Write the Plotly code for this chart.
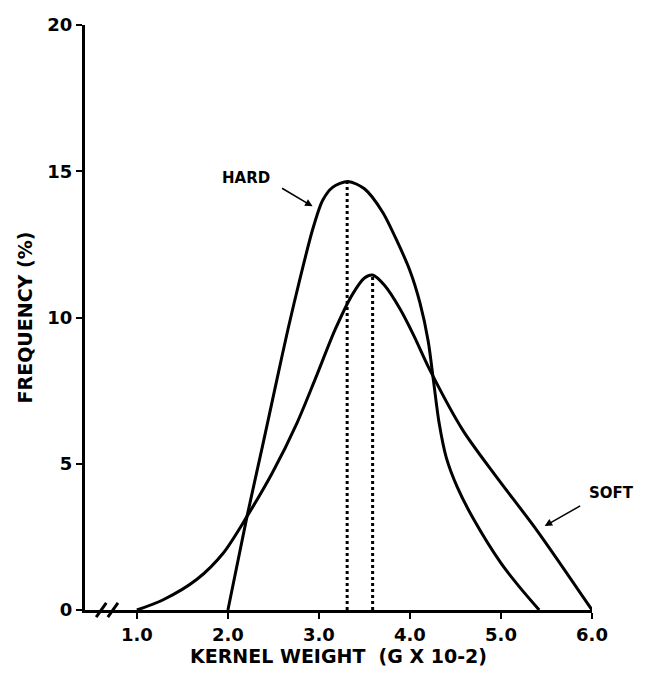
import plotly.graph_objects as go

# Kernel weight (G x 10^-2) vs frequency (%)
hard_x = [2.0, 2.21, 2.38, 2.54, 2.66, 2.79, 2.93, 3.04, 3.15, 3.32, 3.5, 3.7, 3.86, 4.0, 4.11, 4.2, 4.26, 4.32, 4.4, 4.52, 4.7, 5.0, 5.2, 5.42]
hard_y = [0, 3.2, 5.6, 7.9, 9.6, 11.3, 13.0, 14.0, 14.45, 14.65, 14.4, 13.6, 12.6, 11.6, 10.5, 9.2, 7.8, 6.4, 5.2, 4.2, 3.1, 1.6, 0.8, 0]

soft_x = [1.0, 1.29, 1.66, 1.95, 2.21, 2.49, 2.76, 2.96, 3.18, 3.37, 3.5, 3.59, 3.72, 3.89, 4.04, 4.22, 4.58, 4.95, 5.4, 6.0]
soft_y = [0, 0.35, 1.05, 1.95, 3.2, 4.7, 6.4, 7.9, 9.6, 10.8, 11.35, 11.45, 11.1, 10.3, 9.4, 8.2, 6.15, 4.55, 2.7, 0]

hard_peak_x, hard_peak_y = 3.31, 14.65
soft_peak_x, soft_peak_y = 3.59, 11.45

x_ticks = [1, 2, 3, 4, 5, 6]
x_ticklabels = ["1.0", "2.0", "3.0", "4.0", "5.0", "6.0"]
y_ticks = [0, 5, 10, 15, 20]
y_ticklabels = ["0", "5", "10", "15", "20"]

FONT = "DejaVu Sans, Arial, sans-serif"
TICKF = dict(family=FONT, size=18, color="black", weight="bold")
TITLEF = dict(family=FONT, size=19, color="black", weight="bold")
LABF = dict(family=FONT, size=15, color="black", weight="bold")

fig = go.Figure()
fig.add_trace(go.Scatter(x=hard_x, y=hard_y, mode="lines",
                         line=dict(color="black", width=3, shape="spline", smoothing=0.8),
                         showlegend=False, cliponaxis=False))
fig.add_trace(go.Scatter(x=soft_x, y=soft_y, mode="lines",
                         line=dict(color="black", width=3, shape="spline", smoothing=0.8),
                         showlegend=False, cliponaxis=False))
fig.add_trace(go.Scatter(x=[hard_peak_x, hard_peak_x], y=[0, hard_peak_y], mode="lines",
                         line=dict(color="black", width=3, dash="dot"), showlegend=False))
fig.add_trace(go.Scatter(x=[soft_peak_x, soft_peak_x], y=[0, soft_peak_y], mode="lines",
                         line=dict(color="black", width=3, dash="dot"), showlegend=False))

# labels with arrows
fig.add_annotation(x=2.2, y=14.77, text="HARD", showarrow=False, font=LABF,
                   xanchor="center", yanchor="middle")
fig.add_annotation(x=2.93, y=13.8, text="", showarrow=True, arrowhead=2, arrowsize=1,
                   arrowwidth=1.5, arrowcolor="black", ax=-32, ay=-19)
fig.add_annotation(x=1.039, xref="paper", y=4.0, text="SOFT", showarrow=False, font=LABF,
                   xanchor="center", yanchor="middle")
fig.add_annotation(x=5.48, y=2.87, text="", showarrow=True, arrowhead=2, arrowsize=1,
                   arrowwidth=1.5, arrowcolor="black", ax=37, ay=-21)

# axis break marks
for x0 in (0.022, 0.045):
    fig.add_shape(type="line", xref="paper", yref="paper",
                  x0=x0, x1=x0 + 0.02, y0=-0.012, y1=0.012,
                  line=dict(color="black", width=3))

fig.update_layout(
    width=648, height=673,
    margin=dict(l=85, r=56, t=25, b=63),
    paper_bgcolor="white", plot_bgcolor="white",
    font=dict(family=FONT, color="black"),
)
fig.update_xaxes(range=[0.43, 6.0], tickvals=x_ticks, ticktext=x_ticklabels,
                 showgrid=False, zeroline=False, showline=True, linewidth=3, linecolor="black",
                 ticks="outside", ticklen=6, tickwidth=2, tickcolor="black",
                 tickfont=TICKF,
                 title=dict(text="KERNEL WEIGHT&nbsp;&nbsp;(G X 10-2)", font=TITLEF, standoff=4))
fig.update_yaxes(range=[0, 20], tickvals=y_ticks, ticktext=y_ticklabels,
                 showgrid=False, zeroline=False, showline=True, linewidth=3, linecolor="black",
                 ticks="outside", ticklen=6, tickwidth=2, tickcolor="black",
                 tickfont=TICKF,
                 title=dict(text="FREQUENCY (%)", font=TITLEF, standoff=10))

fig.write_html("out.html")
